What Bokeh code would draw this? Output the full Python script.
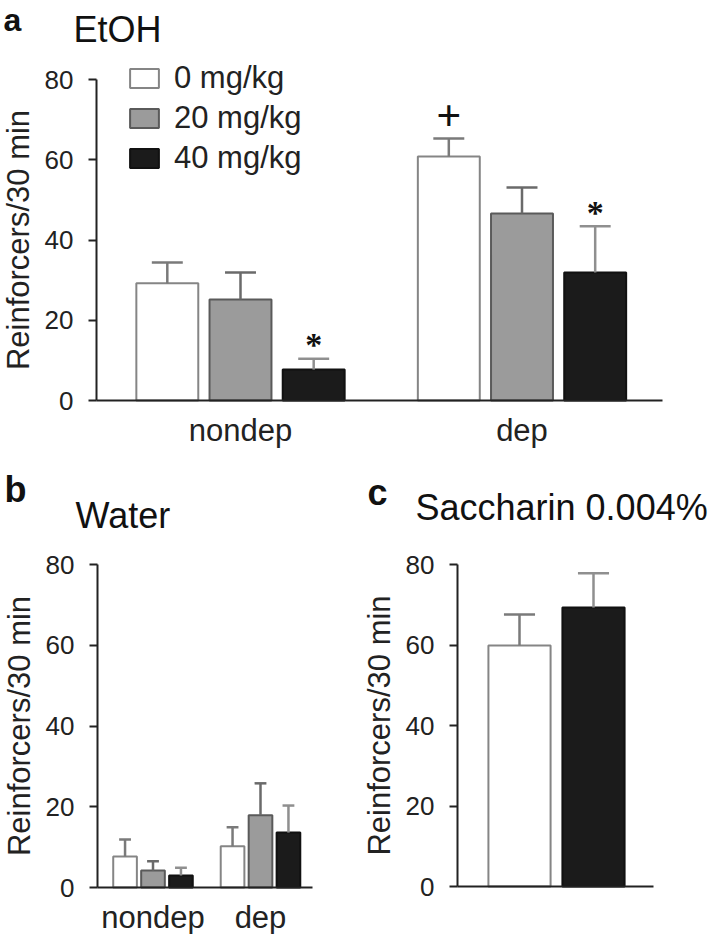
from bokeh.plotting import figure
from bokeh.models import FixedTicker, Label, Legend, LegendItem, ColumnDataSource
from bokeh.layouts import column, row
from bokeh.embed import file_html
from bokeh.resources import INLINE

FONT = "Liberation Sans"

# ---------------- data ----------------
groups = ["nondep", "dep"]
doses = ["0 mg/kg", "20 mg/kg", "40 mg/kg"]
y_ticks = [0, 20, 40, 60, 80]

# (a) EtOH
etoh_0 = [29.2, 60.8]
etoh_0_err = [5.2, 4.5]
etoh_20 = [25.2, 46.6]
etoh_20_err = [6.7, 6.5]
etoh_40 = [7.7, 31.9]
etoh_40_err = [2.7, 11.5]
etoh_marks = [("nondep", "40 mg/kg", "*"), ("dep", "40 mg/kg", "*"), ("dep", "0 mg/kg", "+")]

# (b) Water
water_0 = [7.7, 10.2]
water_0_err = [4.2, 4.7]
water_20 = [4.2, 17.9]
water_20_err = [2.3, 7.9]
water_40 = [3.0, 13.6]
water_40_err = [1.9, 6.7]

# (c) Saccharin 0.004%
sacch_doses = ["0 mg/kg", "40 mg/kg"]
sacch_mean = [59.9, 69.3]
sacch_err = [7.7, 8.5]

# ---------------- styles ----------------
fills = {"0 mg/kg": "white", "20 mg/kg": "#9b9b9b", "40 mg/kg": "#1b1b1b"}
lines = {"0 mg/kg": "#858585", "20 mg/kg": "#5a5a5a", "40 mg/kg": "#111111"}
errc = {"0 mg/kg": "#7a7a7a", "20 mg/kg": "#6a6a6a", "40 mg/kg": "#8f8f8f"}
offsets = {"0 mg/kg": -0.26, "20 mg/kg": 0.0, "40 mg/kg": 0.26}
AX = "#222222"


def lin_range(px_a, v_a, px_b, v_b, size):
    """range values at pixel 0 and pixel `size`, given two anchor pixels."""
    k = (v_b - v_a) / (px_b - px_a)
    return (v_a - px_a * k, v_a + (size - px_a) * k)


def base_fig(w, h, xr, yr, x_bounds, axis_x):
    # the frame is the whole canvas; axes are pinned inside with fixed_location
    p = figure(width=w, height=h, x_range=xr, y_range=yr,
               output_backend="svg", toolbar_location=None,
               min_border=0, min_border_left=0, min_border_right=0,
               min_border_top=0, min_border_bottom=0)
    p.outline_line_color = None
    p.xgrid.visible = False
    p.ygrid.visible = False
    p.background_fill_color = "white"
    p.border_fill_color = "white"
    ya = p.yaxis[0]
    ya.fixed_location = axis_x
    ya.bounds = (y_ticks[0], y_ticks[-1])
    ya.ticker = FixedTicker(ticks=y_ticks)
    ya.major_tick_out = 8
    ya.major_tick_in = 0
    ya.minor_tick_out = 0
    ya.minor_tick_in = 0
    ya.axis_line_width = 2
    ya.axis_line_color = AX
    ya.major_tick_line_width = 2
    ya.major_tick_line_color = AX
    ya.major_label_text_font = FONT
    ya.major_label_text_font_size = "26px"
    ya.major_label_text_color = AX
    ya.major_label_standoff = 15
    ya.axis_label = "Reinforcers/30 min"
    ya.axis_label_text_font = FONT
    ya.axis_label_text_font_size = "31px"
    ya.axis_label_text_font_style = "normal"
    ya.axis_label_text_color = AX
    ya.axis_label_standoff = 6
    xa = p.xaxis[0]
    xa.fixed_location = 0
    xa.bounds = x_bounds
    xa.major_tick_out = 0
    xa.major_tick_in = 0
    xa.minor_tick_out = 0
    xa.minor_tick_in = 0
    xa.axis_line_width = 2
    xa.axis_line_color = AX
    xa.major_label_text_font = FONT
    xa.major_label_text_font_size = "31px"
    xa.major_label_text_color = AX
    xa.major_label_standoff = 12
    return p


def add_bars(p, xs, means, errs, dose, width):
    src = ColumnDataSource(dict(x=xs, top=means, err_top=[m + e for m, e in zip(means, errs)],
                                cl=[x - width / 4 for x in xs], cr=[x + width / 4 for x in xs]))
    r = p.vbar(x="x", top="top", bottom=0, width=width, source=src,
               fill_color=fills[dose], line_color=lines[dose], line_width=2)
    p.segment(x0="x", y0="top", x1="x", y1="err_top", source=src,
              line_color=errc[dose], line_width=2.5)
    p.segment(x0="cl", y0="err_top", x1="cr", y1="err_top", source=src,
              line_color=errc[dose], line_width=2.5)
    return r


def add_text(p, txt, x, y_from_top, size, bold=False, baseline="alphabetic"):
    # screen units: x from frame left, y from frame bottom (frame == canvas here)
    p.add_layout(Label(x=x, y=p.height - y_from_top, x_units="screen", y_units="screen",
                       text=txt, text_font=FONT, text_font_size=size,
                       text_font_style="bold" if bold else "normal",
                       text_color="#111111", text_baseline=baseline))


def group_axis(p):
    xa = p.xaxis[0]
    xa.ticker = FixedTicker(ticks=[i + 1 for i in range(len(groups))])
    xa.major_label_overrides = {i + 1: g for i, g in enumerate(groups)}


BW = 0.22
gx = [i + 1 for i in range(len(groups))]

# ---------------- panel a ----------------
WA, HA = 708, 468
xa_r = lin_range(240, 1, 521.5, 2, WA)
ya_r = lin_range(HA - 400, 0, HA - 79, 80, HA)
xa_b = lin_range(240, 1, 521.5, 2, 96)[1], lin_range(240, 1, 521.5, 2, 662)[1]
pa = base_fig(WA, HA, xa_r, ya_r, xa_b, xa_b[0])
group_axis(pa)
a_series = {"0 mg/kg": (etoh_0, etoh_0_err), "20 mg/kg": (etoh_20, etoh_20_err),
            "40 mg/kg": (etoh_40, etoh_40_err)}
a_rend = {}
for d in doses:
    m, e = a_series[d]
    a_rend[d] = add_bars(pa, [g + offsets[d] for g in gx], m, e, d, BW)

mk = {"*": dict(x=[], y=[], t=[]), "+": dict(x=[], y=[], t=[])}
for g, d, t in etoh_marks:
    gi = groups.index(g)
    m, e = a_series[d]
    mk[t]["x"].append(gx[gi] + offsets[d])
    mk[t]["y"].append(m[gi] + e[gi])
    mk[t]["t"].append(t)
pa.text(x="x", y="y", text="t", source=ColumnDataSource(mk["*"]), text_align="center",
        text_baseline="alphabetic", y_offset=-14, text_font_size="34px",
        text_font_style="bold", text_color="#111111", text_font=FONT)
pa.text(x="x", y="y", text="t", source=ColumnDataSource(mk["+"]), text_align="center",
        text_baseline="alphabetic", y_offset=-23, text_font_size="44px",
        text_font_style="bold", text_color="#111111", text_font=FONT)

legend = Legend(items=[LegendItem(label=d, renderers=[a_rend[d]]) for d in doses],
                location=(126, HA - 176), glyph_width=36, glyph_height=24,
                label_text_font=FONT, label_text_font_size="31px", label_text_color=AX,
                label_standoff=12, spacing=4, padding=0, margin=0,
                border_line_color=None, background_fill_alpha=0)
pa.add_layout(legend)
add_text(pa, "a", 3, 1, "32px", bold=True, baseline="top")
add_text(pa, "EtOH", 73, 29, "36px")

# ---------------- panel b ----------------
WB, HB = 340, 466
xb_r = lin_range(152.5, 1, 260, 2, WB)
yb_r = lin_range(HB - 419, 0, HB - 96, 80, HB)
xb_b = lin_range(152.5, 1, 260, 2, 97)[1], lin_range(152.5, 1, 260, 2, 312)[1]
pb = base_fig(WB, HB, xb_r, yb_r, xb_b, xb_b[0])
group_axis(pb)
b_series = {"0 mg/kg": (water_0, water_0_err), "20 mg/kg": (water_20, water_20_err),
            "40 mg/kg": (water_40, water_40_err)}
for d in doses:
    m, e = b_series[d]
    add_bars(pb, [g + offsets[d] for g in gx], m, e, d, BW)
add_text(pb, "b", 4, 21, "36px", bold=True)
add_text(pb, "Water", 75, 47, "36px")

# ---------------- panel c ----------------
WC, HC = 368, 466
xc_r = lin_range(179, 1, 253, 2, WC)
yc_r = lin_range(HC - 418, 0, HC - 96, 80, HC)
xc_b = lin_range(179, 1, 253, 2, 117)[1], lin_range(179, 1, 253, 2, 313)[1]
pc = base_fig(WC, HC, xc_r, yc_r, xc_b, xc_b[0])
pc.xaxis[0].ticker = FixedTicker(ticks=[])
cx = [i + 1 for i in range(len(sacch_doses))]
for i, d in enumerate(sacch_doses):
    add_bars(pc, [cx[i]], [sacch_mean[i]], [sacch_err[i]], d, 0.84)
add_text(pc, "c", 27, 24, "36px", bold=True)
add_text(pc, "Saccharin 0.004%", 75, 39, "36px")

layout = column(pa, row(pb, pc, spacing=0), spacing=0)
open("out.html", "w").write(file_html(layout, INLINE))
